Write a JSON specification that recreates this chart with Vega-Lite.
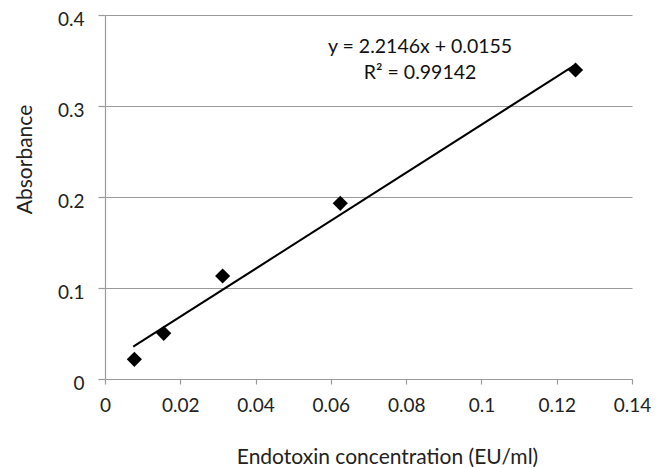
{
  "$schema": "https://vega.github.io/schema/vega-lite/v6.json",
  "width": 527,
  "height": 364,
  "autosize": {"type": "none"},
  "padding": {"left": 105, "top": 15, "right": 33, "bottom": 89},
  "background": "white",
  "config": {
    "view": {"stroke": null},
    "font": "Lato",
    "axis": {
      "labelFont": "Lato",
      "titleFont": "Lato",
      "labelColor": "#222",
      "titleColor": "#222",
      "titleFontWeight": "normal",
      "domainColor": "#9a9a9a",
      "tickColor": "#9a9a9a",
      "gridColor": "#9a9a9a",
      "gridWidth": 1.2,
      "domainWidth": 1.2,
      "tickWidth": 1.2,
      "labelFlush": false
    }
  },
  "datasets": {
    "points": [
      {"conc": 0.0078, "abs": 0.0216},
      {"conc": 0.0156, "abs": 0.0502},
      {"conc": 0.03125, "abs": 0.1132},
      {"conc": 0.0625, "abs": 0.193},
      {"conc": 0.125, "abs": 0.3396}
    ],
    "trend": [
      {"conc": 0.0075, "abs": 0.0355},
      {"conc": 0.1245, "abs": 0.344}
    ],
    "labels": [
      {"conc": 0.0837, "abs": 0.3582, "text": "y = 2.2146x + 0.0155"},
      {"conc": 0.0837, "abs": 0.3297, "text": "R² = 0.99142"}
    ]
  },
  "layer": [
    {
      "data": {"name": "points"},
      "mark": {"type": "point", "shape": "diamond", "filled": true, "color": "black", "size": 230, "opacity": 1},
      "encoding": {
        "x": {
          "field": "conc", "type": "quantitative",
          "scale": {"domain": [0, 0.14], "nice": false, "zero": false},
          "axis": {
            "title": "Endotoxin concentration (EU/ml)",
            "values": [0, 0.02, 0.04, 0.06, 0.08, 0.1, 0.12, 0.14],
            "format": "~g",
            "grid": false,
            "tickSize": 5,
            "labelPadding": 12,
            "labelFontSize": 19,
            "labelBaseline": "top",
            "titleFontSize": 21,
            "titleX": 282,
            "titleY": 84,
            "titleAlign": "center",
            "titleBaseline": "alphabetic"
          }
        },
        "y": {
          "field": "abs", "type": "quantitative",
          "scale": {"domain": [0, 0.4], "nice": false},
          "axis": {
            "title": "Absorbance",
            "values": [0, 0.1, 0.2, 0.3, 0.4],
            "format": "~g",
            "grid": true,
            "tickSize": 7,
            "labelPadding": 14,
            "labelFontSize": 19,
            "labelOffset": 4,
            "titleFontSize": 21,
            "titleX": -80,
            "titleY": 144,
            "titleAngle": 270,
            "titleAlign": "center",
            "titleBaseline": "middle"
          }
        }
      }
    },
    {
      "data": {"name": "trend"},
      "mark": {"type": "line", "color": "black", "strokeWidth": 2},
      "encoding": {
        "x": {"field": "conc", "type": "quantitative"},
        "y": {"field": "abs", "type": "quantitative"}
      }
    },
    {
      "data": {"name": "labels"},
      "mark": {"type": "text", "font": "Lato", "fontSize": 19.5, "color": "#111", "align": "center", "baseline": "alphabetic"},
      "encoding": {
        "x": {"field": "conc", "type": "quantitative"},
        "y": {"field": "abs", "type": "quantitative"},
        "text": {"field": "text"}
      }
    }
  ]
}
